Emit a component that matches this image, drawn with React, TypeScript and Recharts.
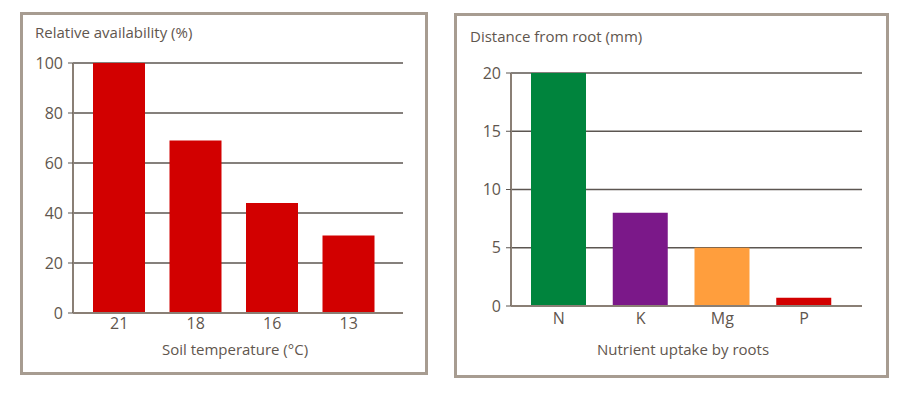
import { Bar, BarChart, CartesianGrid, Cell, XAxis, YAxis } from "recharts"

const temperatures = ["21", "18", "16", "13"]
const availability = [100, 69, 44, 31]
const availabilityTicks = [0, 20, 40, 60, 80, 100]

const nutrients = ["N", "K", "Mg", "P"]
const distances = [20, 8, 5, 0.7]
const nutrientColors = ["#00843d", "#7b1889", "#ff9e3d", "#d20000"]
const distanceTicks = [0, 5, 10, 15, 20]

const tempData = temperatures.map((t, i) => ({ name: t, value: availability[i] }))
const nutrientData = nutrients.map((n, i) => ({ name: n, value: distances[i] }))

const FONT = "'Open Sans', sans-serif"
const TEXT = "#5f564e"
const GRID = "#5c5651"
const AXIS = "#8a7f75"
const BOX = "#a79c91"

const tickStyle = { fill: TEXT, fontSize: 16, fontFamily: FONT }

function Box({ left, top, width, height }: { left: number; top: number; width: number; height: number }) {
  return (
    <div
      style={{
        position: "absolute",
        left,
        top,
        width,
        height,
        boxSizing: "border-box",
        border: `3px solid ${BOX}`,
      }}
    />
  )
}

function Title({ left, top, text, center }: { left: number; top: number; text: string; center?: boolean }) {
  return (
    <div
      style={{
        position: "absolute",
        left,
        top,
        transform: center ? "translateX(-50%)" : undefined,
        whiteSpace: "nowrap",
        fontFamily: FONT,
        fontSize: 15,
        color: TEXT,
        lineHeight: "18px",
      }}
    >
      {text}
    </div>
  )
}

export default function App() {
  return (
    <div style={{ position: "absolute", left: 0, top: 0, width: 898, height: 396, background: "#fff" }}>
      <Box left={20} top={12} width={408} height={363} />
      <Box left={454} top={13} width={435} height={365} />

      <Title left={35} top={23} text="Relative availability (%)" />
      <Title left={235} top={340} text="Soil temperature (°C)" center />
      <Title left={470} top={27} text="Distance from root (mm)" />
      <Title left={683} top={340} text="Nutrient uptake by roots" center />

      <div style={{ position: "absolute", left: 0, top: 0 }}>
        <BarChart
          width={430}
          height={380}
          data={tempData}
          margin={{ top: 63, right: 27, bottom: 37, left: 23 }}
          barSize={52}
        >
          <CartesianGrid vertical={false} stroke={GRID} strokeWidth={1.3} />
          <XAxis
            dataKey="name"
            height={30}
            padding={{ left: 8, right: 16 }}
            tickLine={false}
            tickSize={0}
            tickMargin={5}
            axisLine={{ stroke: AXIS, strokeWidth: 2 }}
            tick={tickStyle}
          />
          <YAxis
            width={50}
            domain={[0, 100]}
            ticks={availabilityTicks}
            tickSize={5}
            tickMargin={5}
            tickLine={{ stroke: GRID }}
            axisLine={{ stroke: AXIS, strokeWidth: 2 }}
            tick={tickStyle}
          />
          <Bar dataKey="value" fill="#d20000" isAnimationActive={false} />
        </BarChart>
      </div>

      <div style={{ position: "absolute", left: 440, top: 0 }}>
        <BarChart
          width={440}
          height={380}
          data={nutrientData}
          margin={{ top: 73, right: 18, bottom: 44, left: 21 }}
          barSize={55}
        >
          <CartesianGrid vertical={false} stroke={GRID} strokeWidth={1.3} />
          <XAxis
            dataKey="name"
            height={30}
            padding={{ left: 7, right: 17 }}
            tickLine={false}
            tickSize={0}
            tickMargin={7}
            axisLine={{ stroke: AXIS, strokeWidth: 2 }}
            tick={tickStyle}
          />
          <YAxis
            width={50}
            domain={[0, 20]}
            ticks={distanceTicks}
            tickSize={5}
            tickMargin={5}
            tickLine={{ stroke: GRID }}
            axisLine={{ stroke: AXIS, strokeWidth: 2 }}
            tick={tickStyle}
          />
          <Bar dataKey="value" isAnimationActive={false}>
            {nutrientData.map((d, i) => (
              <Cell key={d.name} fill={nutrientColors[i]} />
            ))}
          </Bar>
        </BarChart>
      </div>
    </div>
  )
}
